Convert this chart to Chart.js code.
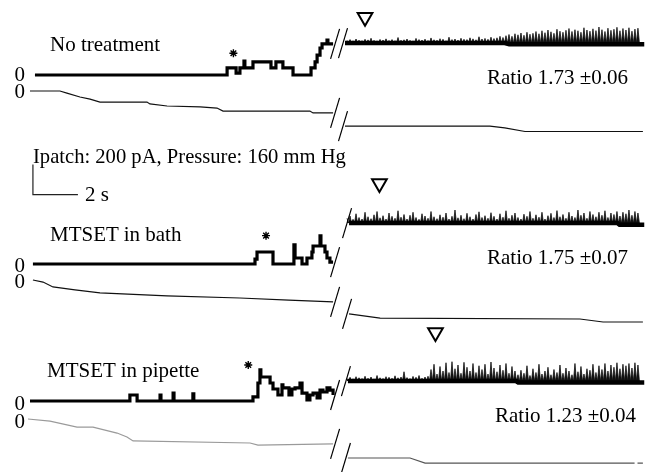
<!DOCTYPE html>
<html><head><meta charset="utf-8">
<script src="https://cdn.jsdelivr.net/npm/chart.js@4.4.1/dist/chart.umd.min.js"></script>
<style>
html,body{margin:0;padding:0;background:#fff;}
#wrap{position:relative;width:653px;height:472px;overflow:hidden;background:#fff;}
canvas{position:absolute;left:0;}
.t{position:absolute;font-family:"Liberation Serif","Times New Roman",serif;font-size:21px;color:#000;white-space:nowrap;line-height:1;}
</style></head><body>
<div id="wrap">
<canvas id="c0" width="653" height="150" style="top:0px"></canvas>
<canvas id="c1" width="653" height="190" style="top:150px"></canvas>
<canvas id="c2" width="653" height="152" style="top:320px"></canvas>
</div>
<script>
// ---------------- DATA ----------------
const panelLabels = ["No treatment", "MTSET in bath", "MTSET in pipette"];
const ratioLabels = ["Ratio 1.73 \u00b10.06", "Ratio 1.75 \u00b10.07", "Ratio 1.23 \u00b10.04"];
const scaleLabel = "Ipatch: 200 pA, Pressure: 160 mm Hg";
const scaleTimeLabel = "2 s";
const scaleBarSeconds = 2, scaleBarCurrent = 200, scaleBarPressure = 160;

// current before the break: [time s, current pA] (level changes)
const cur1Left = [[0.22,0],[8.76,47],[9.16,13],[9.33,47],[9.51,93],[9.55,47],[9.91,87],[10.71,47],[10.93,87],[11.24,47],[11.69,0],[12.49,47],[12.67,87],[12.76,133],[12.89,180],[12.98,207],[13.2,233],[13.24,207],[13.47,207]];
const cur2Left = [[0.13,0],[10.0,33],[10.09,80],[10.8,0],[11.73,127],[11.78,40],[12.09,0],[12.31,40],[12.53,80],[12.58,120],[12.89,187],[12.93,120],[13.11,80],[13.2,40],[13.33,13],[13.47,13]];
const cur3Left = [[0.0,0],[4.44,40],[4.76,0],[5.78,40],[5.82,0],[6.36,53],[6.4,0],[7.24,47],[7.28,0],[9.91,27],[10.13,120],[10.22,207],[10.26,160],[10.67,120],[10.8,80],[11.02,40],[11.2,107],[11.24,87],[11.51,40],[11.64,80],[11.78,87],[12.0,120],[12.09,53],[12.31,7],[12.44,40],[12.58,53],[12.76,20],[12.89,73],[13.02,60],[13.2,87],[13.33,73],[13.47,40]];

// current after the break: open-state band [time s, pA] and spike tops (pA), sampled every spikeStep s
const cur1RightBase = [[14.0,213],[21.1,213],[21.3,205],[27.3,205]];
const cur2RightBase = [[14.18,273],[26.1,273],[26.2,262],[27.3,262]];
const cur3RightBase = [[14.13,133],[21.6,133],[21.7,123],[27.3,123]];
const spikeStart = 14.09, spikeStep = 0.1333;
const cur1Spikes = [230,236,228,240,232,229,238,234,245,231,228,237,233,241,230,236,229,250,232,235,240,231,228,244,236,233,239,230,247,235,232,242,238,229,252,236,240,233,245,238,236,248,241,235,255,240,244,238,252,243,248,258,250,
  262,270,258,275,268,280,265,285,272,278,290,275,295,282,300,288,278,305,292,285,298,310,290,302,295,285,315,300,292,308,296,320,302,290,312,298,305,318,295,310,300,315,292,306,312];
const cur2Spikes = [305,320,298,335,310,300,345,315,302,328,350,308,322,300,340,318,305,355,312,330,300,325,345,310,298,335,320,305,350,315,302,328,312,340,300,318,360,308,325,302,338,315,300,330,348,310,322,305,342,318,300,335,312,355,305,325,340,310,300,332,318,350,305,328,312,345,300,322,338,310,356,315,330,305,345,320,310,360,325,340,305,350,330,315,345,325,355,310,340,330,350,320,345,335,360,325,350,340];
const cur3Spikes = [150,158,148,162,155,150,165,152,160,148,170,155,150,162,158,152,168,155,160,195,156,150,164,158,170,152,160,165,
  210,245,180,230,200,255,190,262,215,240,185,258,225,200,250,190,235,210,245,180,260,220,195,240,205,250,185,230,200,
  175,205,185,235,170,215,190,245,180,200,225,175,210,190,240,185,220,200,175,250,195,230,180,215,205,245,190,235,210,250,200,240,225,255,215,245,235,250,220,255,240];

// pressure: [time s, mmHg]
const pres1Left = [[0,0],[1.33,0],[1.64,-11],[2.22,-32],[2.67,-43],[3.11,-59],[5.2,-59],[5.33,-69],[6.09,-80],[7.56,-85],[8.31,-91],[8.58,-107],[12.44,-107],[12.58,-117],[13.47,-117]];
const pres1Right = [[14.0,-187],[20.44,-187],[21.1,-197],[22.0,-216],[27.24,-216]];
const pres2Left = [[0.13,0],[0.58,-11],[1.02,-37],[2.0,-53],[3.11,-69],[6.09,-85],[9.33,-96],[11.5,-107],[13.47,-117]];
const pres2Right = [[14.18,-181],[15.56,-203],[24.44,-208],[25.47,-224],[27.24,-224]];
const pres3Left = [[-0.09,0],[0.89,-11],[2.09,-43],[2.8,-43],[3.87,-75],[4.31,-96],[4.58,-117],[9.78,-128],[10.13,-139],[13.47,-133]];
const pres3Right = [[14.13,-208],[16.89,-208],[17.56,-235],[26.87,-235],[26.9,null],[27.0,-235],[27.24,-235]];

// markers: first opening (*) and pressure marker (triangle)
const starT = [9.04, 10.49, 9.70], starI = [145, 189, 240];
const triT = [14.89, 15.53, 18.02], triI = [385, 537, 457];

// ---------------- LAYOUT ----------------
const PX_PER_S = 22.5, PA_PER_PX = scaleBarCurrent / 30, MMHG_PER_PX = scaleBarPressure / 30;
const X0PX = 30, W = 653;
const panels = [
  {top:0, height:150, zeroI:75, zeroP:91, presColL:'#111', presColR:'#111'},
  {top:150, height:190, zeroI:264, zeroP:280, presColL:'#111', presColR:'#111'},
  {top:320, height:152, zeroI:401, zeroP:419, presColL:'#9a9a9a', presColR:'#555'}
];
const curLeft = [cur1Left, cur2Left, cur3Left];
const curBase = [cur1RightBase, cur2RightBase, cur3RightBase];
const curSpikes = [cur1Spikes, cur2Spikes, cur3Spikes];
const presLeft = [pres1Left, pres2Left, pres3Left], presRight = [pres1Right, pres2Right, pres3Right];

const toPts = a => a.map(p => ({x:p[0], y:p[1]}));
function spikes(hi, foot){
  const out = [];
  hi.forEach((h,i) => { const t = spikeStart + i*spikeStep; out.push({x:t, y:h}); out.push({x:t + spikeStep/2, y:foot}); });
  return out;
}

const slashPlugin = {
  id:'slash',
  afterDatasetsDraw(chart){
    const ctx = chart.ctx;
    chart.data.datasets.forEach((ds, i) => {
      if (!ds.slash) return;
      const pts = chart.getDatasetMeta(i).data.filter(p => !p.skip);
      let x, y;
      if (ds.slash === 'end') { const p = pts[pts.length-1]; x = p.x + 2; y = p.y; }
      else { x = pts[0].x - 2; y = pts[0].y; }
      ctx.save(); ctx.strokeStyle = '#000'; ctx.lineWidth = 1.2;
      ctx.beginPath(); ctx.moveTo(x - 4.5, y + 15); ctx.lineTo(x + 4.5, y - 15); ctx.stroke();
      ctx.restore();
    });
  }
};
const scaleBarPlugin = {
  id:'scalebar',
  afterDatasetsDraw(chart, args, opts){
    if (!opts.show) return;
    const ctx = chart.ctx, sx = chart.scales.x, sy = chart.scales.yI;
    const x0 = sx.getPixelForValue(opts.t0), x1 = sx.getPixelForValue(opts.t0 + scaleBarSeconds);
    const y0 = sy.getPixelForValue(opts.i0), y1 = sy.getPixelForValue(opts.i0 + scaleBarCurrent);
    ctx.save(); ctx.strokeStyle = '#222'; ctx.lineWidth = 1.2;
    ctx.beginPath(); ctx.moveTo(x0, y1); ctx.lineTo(x0, y0); ctx.lineTo(x1, y0); ctx.stroke();
    ctx.restore();
  }
};

panels.forEach((pn, k) => {
  const iMax = (pn.zeroI - pn.top) * PA_PER_PX, iMin = iMax - pn.height * PA_PER_PX;
  const pMax = (pn.zeroP - pn.top) * MMHG_PER_PX, pMin = pMax - pn.height * MMHG_PER_PX;
  const foot = curBase[k][0][1];
  new Chart(document.getElementById('c' + k), {
    type:'line',
    data:{datasets:[
      {type:'scatter', data:[{x:triT[k], y:triI[k]}], pointStyle:'triangle', rotation:180, pointRadius:8.5, borderWidth:2, borderColor:'#000', backgroundColor:'#fff', yAxisID:'yI'},
      {type:'scatter', data:[{x:starT[k], y:starI[k]}], pointStyle:'star', pointRadius:4, borderWidth:1.4, borderColor:'#000', yAxisID:'yI'},
      {data:toPts(curLeft[k]), stepped:true, borderColor:'#000', borderWidth:3.2, yAxisID:'yI', slash:'end'},
      {data:toPts(curBase[k]), borderColor:'#000', borderWidth:4.5, borderCapStyle:'butt', yAxisID:'yI', slash:'start'},
      {data:spikes(curSpikes[k], foot), borderColor:'#111', borderWidth:0.8, backgroundColor:'#111', fill:{value:foot}, yAxisID:'yI'},
      {data:toPts(presLeft[k]), borderColor:pn.presColL, borderWidth:1.2, yAxisID:'yP', slash:'end'},
      {data:toPts(presRight[k]), borderColor:pn.presColR, borderWidth:1.2, yAxisID:'yP', slash:'start', spanGaps:false}
    ]},
    options:{
      responsive:false, animation:false, events:[],
      layout:{padding:0, autoPadding:false},
      elements:{point:{radius:0}, line:{tension:0}},
      plugins:{legend:{display:false}, tooltip:{enabled:false}, filler:{propagate:false}, scalebar:{show:k===1, t0:0.13, i0:463}},
      scales:{
        x:{type:'linear', display:false, min:-X0PX/PX_PER_S, max:(W - X0PX)/PX_PER_S},
        yI:{type:'linear', display:false, min:iMin, max:iMax},
        yP:{type:'linear', display:false, min:pMin, max:pMax}
      }
    },
    plugins:[slashPlugin, scaleBarPlugin]
  });
});

// ---------------- TEXT ----------------
const wrap = document.getElementById('wrap');
function addText(txt, left, baseline, size){
  const d = document.createElement('div');
  d.className = 't'; d.textContent = txt;
  const s = size || 21;
  d.style.fontSize = s + 'px';
  d.style.left = left + 'px';
  d.style.top = (baseline - 0.8375 * s) + 'px';
  wrap.appendChild(d);
}
const labelPos = [[50,51.7],[50,242],[47,378]];
const ratioPos = [[487,85],[487,265],[495,423]];
panelLabels.forEach((t,i) => addText(t, labelPos[i][0], labelPos[i][1]));
ratioLabels.forEach((t,i) => addText(t, ratioPos[i][0], ratioPos[i][1]));
addText(scaleLabel, 33, 163, 20.6);
addText(scaleTimeLabel, 85, 202);
[81.6, 98.6, 272.1, 288.6, 410.6, 428.6].forEach(b => addText("0", 14.5, b, 21));
</script>
</body></html>
